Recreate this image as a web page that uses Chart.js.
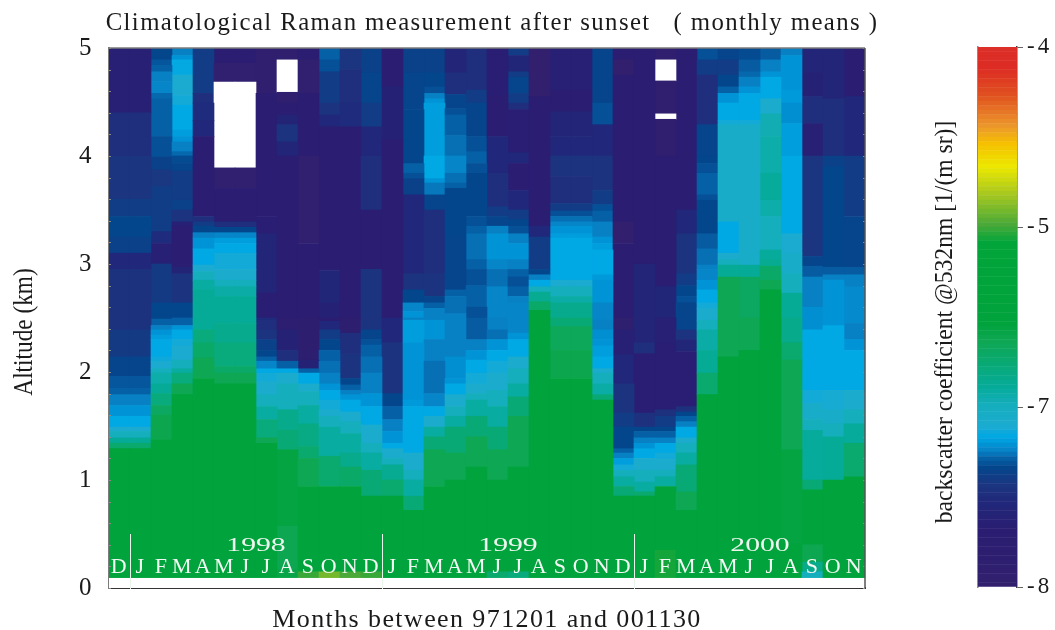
<!DOCTYPE html>
<html>
<head>
<meta charset="utf-8">
<title>Climatological Raman measurement</title>
<script src="https://cdn.jsdelivr.net/npm/chart.js@4"></script>
<style>
    body { margin: 0; background: #fff; }
    #wrap { position: relative; width: 1055px; height: 630px; overflow: hidden; }
    canvas { position: absolute; top: 0; }
    #main { left: 0; }
    #bar { left: 920px; }
</style>
</head>
<body>
<div id="wrap">
    <canvas id="main" width="984" height="630"></canvas>
    <canvas id="bar" width="135" height="630"></canvas>
</div>
<script>
const monthLabels = ['D','J','F','M','A','M','J','J','A','S','O','N','D','J','F','M','A','M','J','J','A','S','O','N','D','J','F','M','A','M','J','J','A','S','O','N'];
const yearLabels = ['1998', '1999', '2000'];
const yearCenters = [6.5, 18.5, 30.5];
const yearDividers = [0.5, 12.5, 24.5];
const colorbarTicks = ['-8', '-7', '-5', '-4'];

// each month, top down: [lower edge of the band in km, log10 backscatter], null = no data
const dec97 = [[4.4,-7.65],[4,-7.5],[3.6,-7.45],[3.44,-7.4],[3.25,-7.35],[3.1,-7.38],[2.95,-7.55],[2.39,-7.47],[2.14,-7.42],[1.96,-7.36],[1.85,-7.32],[1.79,-7.3],[1.69,-7.26],[1.59,-7.22],[1.49,-7.18],[1.45,-7.12],[1.39,-7],[1.34,-6.8],[1.29,-6.5],[0.09,-6.1]];
const jan98 = [[4.4,-7.65],[4,-7.5],[3.6,-7.45],[3.44,-7.4],[3.25,-7.35],[3.1,-7.38],[2.95,-7.55],[2.39,-7.47],[2.14,-7.42],[1.96,-7.36],[1.85,-7.32],[1.79,-7.3],[1.69,-7.26],[1.59,-7.22],[1.49,-7.18],[1.45,-7.12],[1.39,-7],[1.34,-6.8],[1.29,-6.5],[0.09,-6.1]];
const feb98 = [[4.89,-7.35],[4.84,-7.32],[4.78,-7.3],[4.69,-7.26],[4.58,-7.25],[4.53,-7.29],[4.18,-7.3],[3.99,-7.33],[3.87,-7.38],[3.72,-7.44],[3.3,-7.4],[3.19,-7.52],[3,-7.65],[2.64,-7.42],[2.49,-7.35],[2.43,-7.3],[2.39,-7.26],[2.34,-7.22],[2.3,-7.2],[2.14,-7.18],[2.1,-7.15],[2.03,-7.12],[1.99,-7],[1.89,-6.9],[1.8,-6.8],[1.69,-6.6],[1.6,-6.4],[1.37,-6.25],[0.09,-6.1]];
const mar98 = [[4.93,-7.26],[4.89,-7.22],[4.75,-7.17],[4.56,-7.12],[4.47,-7.14],[4.24,-7.18],[4.18,-7.2],[4.13,-7.22],[4.04,-7.26],[4,-7.29],[3.93,-7.34],[3.86,-7.36],[3.59,-7.41],[3.5,-7.38],[3.39,-7.46],[3.35,-7.65],[2.97,-7.72],[2.91,-7.6],[2.64,-7.46],[2.5,-7.35],[2.43,-7.3],[2.39,-7.22],[2.3,-7.18],[2.24,-7.14],[2.11,-7.12],[2.03,-7],[1.99,-6.85],[1.89,-6.6],[1.79,-6.3],[0.09,-6.1]];
const apr98 = [[4.58,-7.41],[4.49,-7.5],[4.33,-7.52],[4.18,-7.55],[3.44,-7.72],[3.39,-7.5],[3.35,-7.41],[3.29,-7.35],[3.24,-7.26],[3.14,-7.22],[2.99,-7.18],[2.93,-7.12],[2.85,-7],[2.76,-6.85],[2.39,-6.8],[2.27,-6.6],[2.13,-6.45],[1.94,-6.3],[0.09,-6.1]];
const may98 = [[4.86,-7.7],[4.685,-7.95],[3.89,null],[3.7,-7.95],[3.39,-7.72],[3.34,-7.5],[3.29,-7.35],[3.24,-7.25],[3.19,-7.2],[3.1,-7.18],[2.95,-7.14],[2.85,-7.1],[2.79,-7],[2.7,-6.88],[2.45,-6.8],[2.27,-6.72],[2.05,-6.6],[1.99,-6.45],[1.89,-6.3],[0.09,-6.1]];
const jun98 = [[4.86,-7.7],[4.685,-7.95],[3.89,null],[3.7,-7.95],[3.39,-7.72],[3.34,-7.5],[3.29,-7.35],[3.24,-7.25],[3.19,-7.2],[3.1,-7.18],[2.95,-7.14],[2.85,-7.1],[2.79,-7],[2.7,-6.88],[2.45,-6.8],[2.27,-6.72],[2.05,-6.6],[1.99,-6.45],[1.89,-6.3],[0.15,-6.1],[0.09,-6.0]];
const jul98 = [[4.58,-7.92],[3.44,-7.72],[3.28,-7.68],[2.73,-7.58],[2.5,-7.68],[2.48,-7.52],[2.39,-7.5],[2.3,-7.46],[2.2,-7.38],[2.14,-7.35],[2.1,-7.3],[2.03,-7.25],[1.99,-7.18],[1.91,-7.14],[1.79,-7.1],[1.68,-7],[1.56,-6.85],[1.39,-6.6],[1.34,-6.3],[0.09,-6.1]];
const aug98 = [[4.89,-7.92],[4.59,null],[4.49,-7.92],[4.38,-7.72],[4.29,-7.6],[4.13,-7.46],[4,-7.58],[2.5,-7.72],[2.39,-7.8],[2.2,-7.62],[2.1,-7.5],[2.03,-7.3],[1.99,-7.18],[1.89,-7.1],[1.65,-7],[1.46,-6.7],[1.28,-6.55],[0.57,-6.15],[0.17,-6.28],[0.09,-6.2]];
const sep98 = [[4.89,-7.7],[4.58,-7.95],[4,-7.72],[3.19,-7.95],[2.5,-7.72],[2.11,-7.85],[2.03,-7.62],[1.99,-7.3],[1.89,-7.18],[1.82,-7.1],[1.69,-7],[1.52,-6.85],[1.31,-6.65],[1.2,-6.5],[0.94,-6.3],[0.15,-6.1],[0.09,-5.05]];
const oct98 = [[4.89,-7.3],[4.78,-7.33],[4.49,-7.41],[4.38,-7.46],[4.27,-7.55],[2.94,-7.72],[2.64,-7.56],[2.5,-7.62],[2.47,-7.72],[2.39,-7.55],[2.3,-7.41],[2.2,-7.35],[2.1,-7.3],[1.99,-7.28],[1.89,-7.26],[1.83,-7.22],[1.74,-7.18],[1.65,-7.14],[1.59,-7.1],[1.49,-7],[1.22,-6.85],[0.94,-6.5],[0.15,-6.1],[0.09,-4.92]];
const nov98 = [[4.8,-7.45],[4.49,-7.5],[4.27,-7.52],[2.5,-7.72],[2.36,-7.85],[2.17,-7.5],[1.94,-7.46],[1.88,-7.35],[1.83,-7.3],[1.79,-7.26],[1.74,-7.22],[1.63,-7.18],[1.54,-7.1],[1.43,-7],[1.25,-6.85],[1.12,-6.7],[0.94,-6.45],[0.15,-6.1],[0.09,-5]];
const dec98 = [[4.77,-7.38],[4.49,-7.36],[4.27,-7.41],[4,-7.55],[3.5,-7.5],[2.95,-7.72],[2.39,-7.46],[2.3,-7.36],[2.25,-7.33],[2.14,-7.3],[1.99,-7.28],[1.8,-7.26],[1.68,-7.22],[1.51,-7.18],[1.34,-7.1],[1.25,-7],[1.09,-6.85],[0.85,-6.55],[0.15,-6.1],[0.09,-5.05]];
const jan99 = [[4.64,-7.7],[4.15,-7.62],[2.5,-7.72],[2.27,-7.55],[1.8,-7.46],[1.68,-7.35],[1.56,-7.3],[1.45,-7.26],[1.34,-7.22],[1.29,-7.18],[1.2,-7.1],[1.14,-7],[1,-6.75],[0.85,-6.5],[0.09,-6.1]];
const feb99 = [[4.77,-7.38],[4.43,-7.36],[3.93,-7.35],[3.84,-7.3],[3.79,-7.33],[3.64,-7.38],[2.91,-7.55],[2.76,-7.46],[2.64,-7.35],[2.56,-7.25],[2.5,-7.22],[2.48,-7.26],[2.27,-7.2],[1.74,-7.22],[1.68,-7.21],[1.25,-7.18],[1.09,-7.1],[1,-7],[0.85,-6.85],[0.72,-6.55],[0.09,-6.1]];
const mar99 = [[4.77,-7.38],[4.64,-7.35],[4.58,-7.33],[4.53,-7.26],[4.49,-7.22],[4,-7.2],[3.79,-7.18],[3.75,-7.22],[3.64,-7.27],[3.5,-7.36],[2.91,-7.5],[2.7,-7.46],[2.64,-7.36],[2.59,-7.3],[2.48,-7.26],[2.3,-7.22],[2.1,-7.26],[1.8,-7.28],[1.68,-7.25],[1.59,-7.18],[1.49,-7.1],[1.4,-6.85],[1.28,-6.55],[0.94,-6.3],[0.09,-6.1]];
const apr99 = [[4.77,-7.58],[4.57,-7.5],[4.44,-7.36],[4.38,-7.33],[4.19,-7.3],[4,-7.28],[3.84,-7.25],[3.75,-7.28],[3.7,-7.3],[3.25,-7.35],[2.76,-7.36],[2.7,-7.3],[2.54,-7.28],[2.14,-7.26],[1.94,-7.23],[1.89,-7.22],[1.79,-7.18],[1.68,-7.1],[1.59,-7],[1.49,-6.85],[1.25,-6.55],[1,-6.3],[0.09,-6.1]];
const may99 = [[4.61,-7.5],[4.49,-7.41],[4.18,-7.36],[4.04,-7.33],[3.93,-7.3],[3.84,-7.33],[3.44,-7.35],[3.35,-7.33],[3.28,-7.3],[3.04,-7.28],[2.95,-7.3],[2.8,-7.33],[2.6,-7.3],[2.5,-7.33],[2.3,-7.31],[2.2,-7.26],[2.11,-7.22],[1.99,-7.18],[1.89,-7.14],[1.8,-7.1],[1.74,-7],[1.59,-6.85],[1.4,-6.55],[1.12,-6.3],[0.09,-6.1]];
const jun99 = [[4.55,-7.68],[4.18,-7.72],[3.84,-7.55],[3.53,-7.5],[3.44,-7.41],[3.35,-7.36],[3.28,-7.26],[3.04,-7.22],[2.95,-7.25],[2.79,-7.28],[2.5,-7.25],[2.39,-7.26],[2.3,-7.28],[2.2,-7.22],[2.1,-7.18],[1.99,-7.14],[1.83,-7.1],[1.68,-7],[1.49,-6.85],[1.28,-6.55],[1,-6.3],[0.15,-6.1],[0.09,-6.5]];
const jul99 = [[4.93,-7.41],[4.78,-7.56],[4.73,-7.41],[4.58,-7.36],[4.49,-7.41],[4.43,-7.5],[4.03,-7.68],[3.93,-7.55],[3.68,-7.72],[3.5,-7.55],[3.41,-7.41],[3.35,-7.35],[3.28,-7.33],[3.19,-7.26],[3.04,-7.22],[2.95,-7.26],[2.88,-7.3],[2.79,-7.33],[2.7,-7.3],[2.64,-7.26],[2.36,-7.25],[2.3,-7.22],[2.14,-7.18],[2.03,-7.1],[1.89,-7],[1.77,-6.85],[1.59,-6.55],[1.12,-6.3],[0.15,-6.1],[0.09,-6.6]];
const aug99 = [[4.55,-8],[3.35,-7.72],[3.25,-7.55],[2.95,-7.41],[2.9,-7.35],[2.85,-7.26],[2.79,-7.18],[2.74,-7],[2.65,-6.75],[2.57,-6.45],[0.09,-6.1]];
const sep99 = [[4.61,-7.65],[4.41,-7.72],[4.18,-7.58],[4,-7.55],[3.81,-7.46],[3.56,-7.5],[3.49,-7.41],[3.44,-7.33],[3.39,-7.28],[3.35,-7.25],[3.28,-7.22],[3.24,-7.2],[2.85,-7.18],[2.79,-7.12],[2.7,-7],[2.64,-6.88],[2.5,-6.72],[2.42,-6.55],[2.2,-6.35],[1.94,-6.25],[0.09,-6.1]];
const oct99 = [[4.61,-7.65],[4.41,-7.72],[4.18,-7.58],[4,-7.55],[3.81,-7.46],[3.56,-7.5],[3.49,-7.41],[3.44,-7.33],[3.39,-7.28],[3.35,-7.25],[3.28,-7.22],[3.24,-7.2],[2.85,-7.18],[2.79,-7.12],[2.7,-7],[2.64,-6.88],[2.5,-6.72],[2.42,-6.55],[2.2,-6.35],[1.94,-6.25],[0.09,-6.1]];
const nov99 = [[4.49,-7.36],[4.29,-7.33],[4,-7.55],[3.68,-7.46],[3.55,-7.41],[3.49,-7.33],[3.39,-7.3],[3.25,-7.26],[3.19,-7.22],[3.13,-7.2],[2.9,-7.18],[2.85,-7.21],[2.64,-7.22],[2.48,-7.25],[2.39,-7.26],[2.3,-7.23],[2.24,-7.22],[2.14,-7.2],[2.03,-7.18],[1.99,-7.1],[1.89,-7],[1.79,-6.88],[1.74,-6.55],[0.09,-6.1]];
const dec99 = [[4.89,-7.72],[4.75,-8],[3.39,-7.72],[3.19,-8],[2.5,-7.72],[2.39,-7.9],[2.16,-7.65],[1.89,-7.55],[1.62,-7.46],[1.49,-7.41],[1.29,-7.35],[1.25,-7.3],[1.2,-7.26],[1.14,-7.2],[1.09,-7.14],[1.03,-7],[0.94,-6.85],[0.85,-6.55],[0.09,-6.1]];
const jan00 = [[3,-7.7],[2.27,-7.58],[2.17,-7.5],[1.62,-7.68],[1.49,-7.48],[1.45,-7.35],[1.39,-7.3],[1.34,-7.26],[1.29,-7.22],[1.2,-7.18],[1.09,-7.1],[0.98,-7],[0.89,-6.85],[0.85,-6.5],[0.09,-6.1]];
const feb00 = [[4.89,-7.92],[4.695,null],[4.39,-7.92],[4.34,null],[4,-7.92],[2.79,-7.7],[2.5,-7.56],[2.27,-7.65],[1.65,-7.68],[1.59,-7.48],[1.49,-7.41],[1.45,-7.35],[1.39,-7.3],[1.34,-7.26],[1.25,-7.18],[1.19,-7.14],[1.09,-7.1],[1.03,-7],[0.94,-6.85],[0.35,-6.1],[0.09,-5.15]];
const mar00 = [[3.5,-7.72],[3.28,-7.55],[2.91,-7.46],[2.8,-7.41],[2.7,-7.35],[2.64,-7.33],[2.39,-7.36],[2.3,-7.46],[2.19,-7.56],[1.68,-7.68],[1.63,-7.48],[1.59,-7.35],[1.54,-7.3],[1.49,-7.26],[1.39,-7.18],[1.34,-7.1],[1.25,-7],[1.14,-6.85],[0.89,-6.55],[0.72,-6.3],[0.09,-6.1]];
const apr00 = [[4.89,-7.33],[4.75,-7.41],[4.29,-7.5],[4,-7.36],[3.93,-7.35],[3.84,-7.33],[3.64,-7.3],[3.59,-7.33],[3.28,-7.35],[3.14,-7.31],[2.99,-7.28],[2.95,-7.26],[2.85,-7.25],[2.76,-7.22],[2.64,-7.18],[2.59,-7.14],[2.48,-7.1],[2.39,-7],[2.2,-6.88],[1.99,-6.78],[1.79,-6.5],[0.09,-6.1]];
const may00 = [[4.89,-7.36],[4.75,-7.41],[4.64,-7.35],[4.58,-7.3],[4.49,-7.22],[4.33,-7.18],[4.29,-7.14],[3.39,-7.08],[3.1,-7.18],[3.04,-7.1],[2.99,-7],[2.88,-6.78],[2.14,-6.3],[0.09,-6.1]];
const jun00 = [[4.89,-7.34],[4.78,-7.31],[4.73,-7.29],[4.64,-7.26],[4.58,-7.22],[4.33,-7.18],[4.29,-7.14],[2.99,-7.08],[2.88,-6.8],[2.5,-6.4],[2.2,-6.3],[0.09,-6.1]];
const jul00 = [[4.89,-7.31],[4.78,-7.26],[4.73,-7.22],[4.53,-7.18],[4.39,-7.1],[4.18,-6.95],[3.84,-6.9],[3.59,-6.82],[3.44,-6.9],[3.13,-7],[3.04,-6.82],[2.98,-6.75],[2.85,-6.45],[2.76,-6.3],[0.09,-6.1]];
const aug00 = [[4.93,-7.26],[4.61,-7.22],[4.49,-7.21],[4.3,-7.23],[4,-7.2],[3.28,-7.18],[3.1,-7.12],[2.91,-7.08],[2.73,-7],[2.5,-6.78],[2.27,-6.7],[2.11,-6.5],[1.28,-6.3],[0.41,-6.15],[0.09,-6.1]];
const sep00 = [[4.77,-7.58],[4.55,-7.62],[4.3,-7.5],[4,-7.65],[3.07,-7.45],[2.98,-7.36],[2.88,-7.31],[2.6,-7.26],[2.39,-7.23],[1.83,-7.18],[1.71,-7.14],[1.56,-7.08],[1.46,-7],[1,-6.82],[0.91,-6.55],[0.4,-6.1],[0.24,-6.28],[0.15,-6.7],[0.09,-7]];
const oct00 = [[4.53,-7.58],[4,-7.5],[3.9,-7.38],[2.97,-7.35],[2.9,-7.31],[2.85,-7.26],[2.43,-7.22],[1.83,-7.18],[1.65,-7.13],[1.52,-7.08],[1.4,-7],[1,-6.8],[0.09,-6.1]];
const nov00 = [[4.55,-7.72],[4,-7.55],[3.44,-7.41],[2.97,-7.36],[2.9,-7.31],[2.79,-7.26],[2.45,-7.24],[2.3,-7.26],[2.2,-7.22],[1.83,-7.18],[1.65,-7.1],[1.52,-7],[1.34,-6.82],[1.03,-6.5],[0.09,-6.1]];

const months = [dec97, jan98, feb98, mar98, apr98, may98, jun98, jul98, aug98, sep98, oct98, nov98, dec98,
    jan99, feb99, mar99, apr99, may99, jun99, jul99, aug99, sep99, oct99, nov99, dec99,
    jan00, feb00, mar00, apr00, may00, jun00, jul00, aug00, sep00, oct00, nov00];

// colour ramp of the bar, bottom to top
const colorbarLevels = [-8,-7.975,-7.95,-7.925,-7.9,-7.875,-7.85,-7.825,-7.8,-7.775,-7.75,-7.725,-7.7,-7.675,-7.65,-7.625,-7.6,-7.575,-7.55,-7.525,
    -7.5,-7.475,-7.45,-7.425,-7.4,-7.375,-7.35,-7.325,-7.3,-7.275,-7.25,-7.225,-7.2,-7.175,-7.15,-7.125,-7.1,-7.075,-7.05,-7.025,
    -7,-6.95,-6.9,-6.85,-6.8,-6.75,-6.7,-6.65,-6.6,-6.55,-6.5,-6.45,-6.4,-6.35,-6.3,-6.25,-6.2,-6.15,-6.1,-6.05,
    -6,-5.95,-5.9,-5.85,-5.8,-5.75,-5.7,-5.65,-5.6,-5.55,-5.5,-5.45,-5.4,-5.35,-5.3,-5.25,-5.2,-5.15,-5.1,-5.05,
    -5,-4.975,-4.95,-4.925,-4.9,-4.875,-4.85,-4.825,-4.8,-4.775,-4.75,-4.725,-4.7,-4.675,-4.65,-4.625,-4.6,-4.575,-4.55,-4.525,
    -4.5,-4.475,-4.45,-4.425,-4.4,-4.375,-4.35,-4.325,-4.3,-4.275,-4.25,-4.225,-4.2,-4.175,-4.15,-4.125,-4.1,-4.075,-4.05,-4.025];

const colorStops = [
    [-8, [50,32,110]], [-7.7, [42,29,114]], [-7.55, [33,39,122]], [-7.45, [28,53,128]], [-7.35, [4,70,140]],
    [-7.3, [6,96,166]], [-7.26, [8,128,196]], [-7.22, [0,148,214]], [-7.18, [0,168,228]], [-7.12, [28,171,208]],
    [-7, [20,174,188]], [-6.8, [6,171,152]], [-6.5, [10,169,110]], [-6.3, [14,167,84]], [-6.1, [0,163,60]],
    [-5.2, [2,165,58]], [-5, [74,169,56]], [-4.83, [168,200,32]], [-4.68, [236,232,0]], [-4.55, [246,192,0]],
    [-4.46, [236,154,44]], [-4.28, [224,80,32]], [-4.13, [220,44,36]], [-4, [220,48,40]]
];

const SERIF = '"Liberation Serif", serif';

function levelColor(v) {
    if (v === null) return '#ffffff';
    for (let i = 1; i < colorStops.length; i++) {
        const [v0, c0] = colorStops[i - 1];
        const [v1, c1] = colorStops[i];
        if (v <= v1) {
            const t = (v - v0) / (v1 - v0);
            const mix = c0.map((c, k) => Math.round(c + (c1[k] - c) * t));
            return `rgb(${mix.join(',')})`;
        }
    }
    return 'rgb(220,48,40)';
}

// top-down bands to bottom-up bands with heights
function toBands(list) {
    const bands = [];
    let top = 5;
    list.forEach(([low, v]) => {
        bands.push({ h: top - low, v });
        top = low;
    });
    bands.push({ h: top, v: null });
    return bands.reverse();
}

// rotated axis text, squeezed along and stretched across like the printed figure
function drawSideTitle(ctx, text, x, y, size, along, across) {
    ctx.save();
    ctx.letterSpacing = '0px';
    ctx.translate(x, y);
    ctx.rotate(-Math.PI / 2);
    ctx.scale(along, across);
    ctx.fillStyle = '#1a1a1a';
    ctx.font = size + 'px ' + SERIF;
    ctx.textAlign = 'center';
    ctx.textBaseline = 'middle';
    ctx.fillText(text, 0, 0);
    ctx.restore();
}

const monthBands = months.map(toBands);
const maxBands = Math.max(...monthBands.map(b => b.length));
const datasets = [];
for (let k = 0; k < maxBands; k++) {
    datasets.push({
        data: monthBands.map(b => (b[k] ? b[k].h : 0)),
        backgroundColor: monthBands.map(b => (b[k] ? levelColor(b[k].v) : 'rgba(0,0,0,0)')),
        borderWidth: 0,
        categoryPercentage: 1,
        barPercentage: 1,
        stack: 'alt'
    });
}

const overlay = {
    id: 'overlay',
    beforeDraw(chart) {
        chart.ctx.letterSpacing = '1.4px';
    },
    afterDraw(chart) {
        const { ctx, chartArea: a, scales: { x, y } } = chart;
        ctx.save();
        ctx.letterSpacing = '0px';
        // small ticks on both edges
        ctx.strokeStyle = '#8a8a8a';
        ctx.lineWidth = 1;
        y.ticks.forEach(t => {
            const py = Math.round(y.getPixelForValue(t.value)) + 0.5;
            ctx.beginPath();
            ctx.moveTo(a.left, py); ctx.lineTo(a.left + 2, py);
            ctx.moveTo(a.right - 2, py); ctx.lineTo(a.right, py);
            ctx.stroke();
        });
        // frame
        ctx.strokeStyle = '#7b7b7b';
        ctx.lineWidth = 1.5;
        ctx.beginPath();
        ctx.moveTo(a.left - 1, a.top); ctx.lineTo(a.right, a.top);
        ctx.stroke();
        ctx.strokeStyle = '#555';
        ctx.beginPath();
        ctx.moveTo(a.right, a.top); ctx.lineTo(a.right, a.bottom);
        ctx.stroke();
        // year dividers
        ctx.strokeStyle = '#e8f4ea';
        ctx.lineWidth = 1;
        yearDividers.forEach(m => {
            const px = Math.round(x.getPixelForValue(m)) + 0.5;
            ctx.beginPath();
            ctx.moveTo(px, y.getPixelForValue(0.5)); ctx.lineTo(px, a.bottom + 1);
            ctx.stroke();
        });
        // years, stretched like the original print
        ctx.fillStyle = '#eef7ef';
        ctx.font = '18px ' + SERIF;
        ctx.textAlign = 'center';
        ctx.textBaseline = 'alphabetic';
        yearLabels.forEach((label, i) => {
            ctx.save();
            ctx.translate(x.getPixelForValue(yearCenters[i]), 551);
            ctx.scale(1.65, 1);
            ctx.fillText(label, 0, 0);
            ctx.restore();
        });
        ctx.restore();
        drawSideTitle(ctx, 'Altitude (km)', 25, 332, 24, 0.97, 1.15);
    }
};

const barTitle = {
    id: 'barTitle',
    beforeDraw(chart) {
        chart.ctx.letterSpacing = '3px';
    },
    afterDraw(chart) {
        drawSideTitle(chart.ctx, 'backscatter coefficient @532nm [1/(m sr)]', 25, 322, 23.6, 1, 1.05);
    }
};

new Chart(document.getElementById('main'), {
    type: 'bar',
    data: { labels: monthLabels, datasets },
    plugins: [overlay],
    options: {
        responsive: false,
        animation: false,
        events: [],
        plugins: {
            legend: { display: false },
            tooltip: { enabled: false },
            title: {
                display: true,
                text: 'Climatological Raman measurement after sunset   ( monthly means )',
                color: '#1a1a1a',
                font: { family: SERIF, size: 24.8, weight: 'normal' },
                padding: { top: 9, bottom: 9.24 }
            }
        },
        scales: {
            x: {
                stacked: true,
                afterFit(scale) { scale.height = 42; },
                grid: { display: false, drawTicks: false },
                border: { color: '#333', width: 2 },
                ticks: {
                    z: 1,
                    color: '#f2f9f3',
                    font: { family: SERIF, size: 22 },
                    mirror: true,
                    padding: 8,
                    autoSkip: false,
                    maxRotation: 0
                },
                title: {
                    display: true,
                    text: 'Months between 971201 and 001130',
                    color: '#1a1a1a',
                    font: { family: SERIF, size: 26 },
                    padding: { top: 0, bottom: -5.6 }
                }
            },
            y: {
                stacked: true,
                min: 0,
                max: 5,
                afterFit(scale) { scale.width = 109; },
                grid: { display: false, drawTicks: false },
                border: { color: '#7b7b7b', width: 2 },
                ticks: {
                    stepSize: 0.2,
                    autoSkip: false,
                    color: '#1a1a1a',
                    padding: 16,
                    font: { family: SERIF, size: 25 },
                    callback(v) {
                        const r = Math.round(v);
                        return Math.abs(v - r) < 1e-6 ? String(r) : '';
                    }
                }
            },
            // empty axis that keeps the gap before the colour bar
            gap: {
                position: 'right',
                min: 0,
                max: 5,
                afterFit(scale) { scale.width = 119; },
                grid: { display: false, drawTicks: false },
                border: { display: false },
                ticks: { display: false }
            }
        }
    }
});

new Chart(document.getElementById('bar'), {
    type: 'bar',
    data: {
        labels: [''],
        datasets: colorbarLevels.map(level => ({
            data: [0.025],
            backgroundColor: levelColor(level),
            borderWidth: 0,
            categoryPercentage: 1,
            barPercentage: 1,
            yAxisID: 'y'
        }))
    },
    plugins: [barTitle],
    options: {
        responsive: false,
        animation: false,
        events: [],
        layout: { padding: { top: 47, bottom: 43 } },
        plugins: { legend: { display: false }, tooltip: { enabled: false } },
        scales: {
            x: { stacked: true, display: false },
            y: {
                stacked: true,
                position: 'right',
                min: 0,
                max: 3,
                afterFit(scale) { scale.width = 38; },
                grid: { display: true, drawOnChartArea: false, tickLength: 6, tickColor: '#666' },
                border: { color: '#3f4a4a', width: 1.5 },
                ticks: {
                    stepSize: 1,
                    color: '#1a1a1a',
                    padding: 4,
                    font: { family: SERIF, size: 23 },
                    callback(v) { return colorbarTicks[v]; }
                }
            },
            side: {
                position: 'left',
                min: 0,
                max: 3,
                afterFit(scale) { scale.width = 58; },
                grid: { display: false, drawTicks: false },
                border: { color: '#8a8a8a', width: 1.5 },
                ticks: { display: false }
            }
        }
    }
});
</script>
</body>
</html>
